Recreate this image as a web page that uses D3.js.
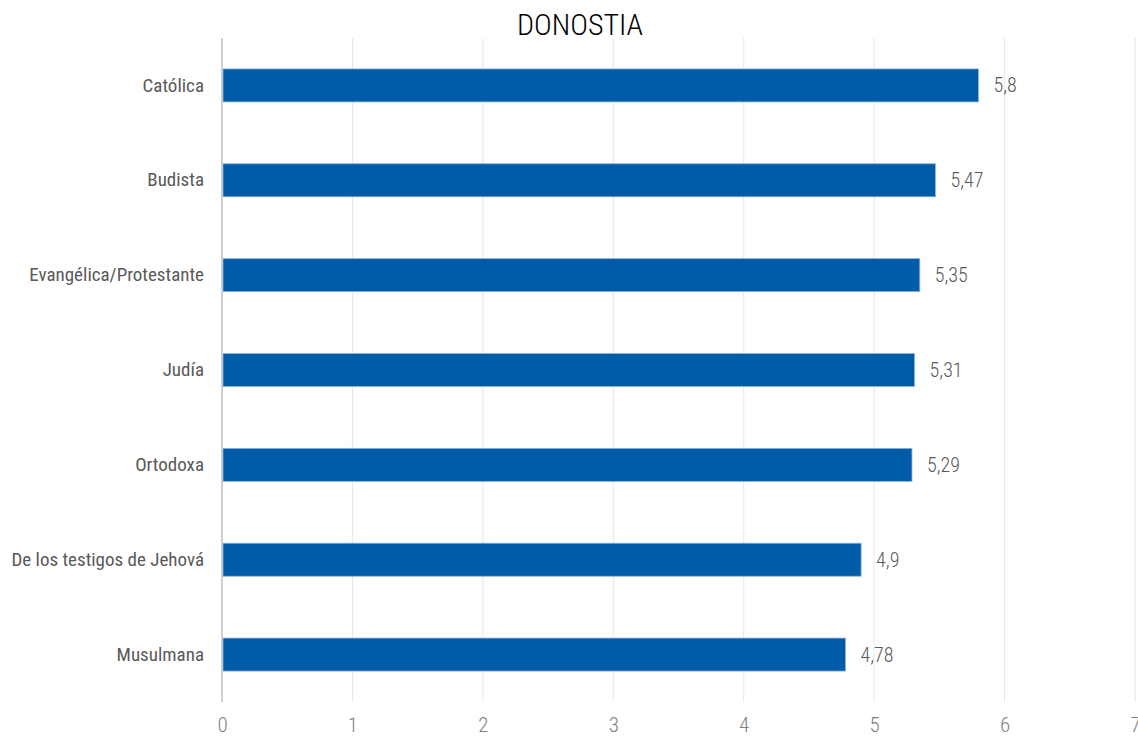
<!DOCTYPE html>
<html><head><meta charset="utf-8">
<script src="https://cdn.jsdelivr.net/npm/d3@7"></script>
<style>
html,body{margin:0;padding:0;background:#fff;}
text{font-family:"Liberation Sans Narrow","Roboto Condensed","DejaVu Sans Condensed",sans-serif;font-weight:300;}
</style></head>
<body><svg id="c" width="1138" height="738"></svg>
<script>
const title = "DONOSTIA";
const categories = ["Católica","Budista","Evangélica/Protestante","Judía","Ortodoxa","De los testigos de Jehová","Musulmana"];
const values = [5.8,5.47,5.35,5.31,5.29,4.9,4.78];
const valueLabels = ["5,8","5,47","5,35","5,31","5,29","4,9","4,78"];
const xTicks = [0,1,2,3,4,5,6,7];

const svg = d3.select("#c");
const m = {left:222, right:1135, top:38, bottom:702};
const x = d3.scaleLinear().domain([0,7]).range([m.left, m.right]);
const y = d3.scaleBand().domain(categories).range([m.top, m.bottom]).paddingInner(0.652).paddingOuter(0.326);

svg.append("g").selectAll("line").data(xTicks.slice(1)).join("line")
  .attr("x1",d=>x(d)).attr("x2",d=>x(d)).attr("y1",m.top).attr("y2",m.bottom)
  .attr("stroke","#e6e6e6").attr("stroke-width",1);
svg.append("line").attr("x1",x(0)).attr("x2",x(0)).attr("y1",m.top).attr("y2",m.bottom)
  .attr("stroke","#d0d0d0").attr("stroke-width",2);

svg.append("g").selectAll("rect").data(values).join("rect")
  .attr("x",x(0)+1).attr("y",(d,i)=>y(categories[i]))
  .attr("width",d=>x(d)-x(0)-1).attr("height",y.bandwidth())
  .attr("fill","#005ba9").attr("stroke","#8fb3d9").attr("stroke-width",0.8);

svg.append("g").selectAll("text").data(values).join("text")
  .attr("x",d=>x(d)+15).attr("y",(d,i)=>y(categories[i])+y.bandwidth()/2)
  .attr("dy","0.35em").attr("font-size",20).attr("fill","#595959")
  .text((d,i)=>valueLabels[i]);

const ax = d3.axisLeft(y).tickSize(0).tickPadding(18);
const gy = svg.append("g").attr("transform",`translate(${m.left},0)`).call(ax);
gy.select(".domain").remove();
gy.selectAll("text").attr("font-size",19).attr("fill","#595959").attr("font-family",null).style("font-weight",400);

const axb = d3.axisBottom(x).tickValues(xTicks).tickSize(0).tickPadding(15).tickFormat(d=>String(d));
const gx = svg.append("g").attr("transform",`translate(0,${m.bottom})`).call(axb);
gx.select(".domain").remove();
gx.selectAll("text").attr("font-size",21).attr("fill","#7f7f7f").attr("font-family",null);

svg.append("text").attr("x",580).attr("y",35).attr("text-anchor","middle")
  .attr("font-size",30).attr("fill","#000").text(title);
</script></body></html>
